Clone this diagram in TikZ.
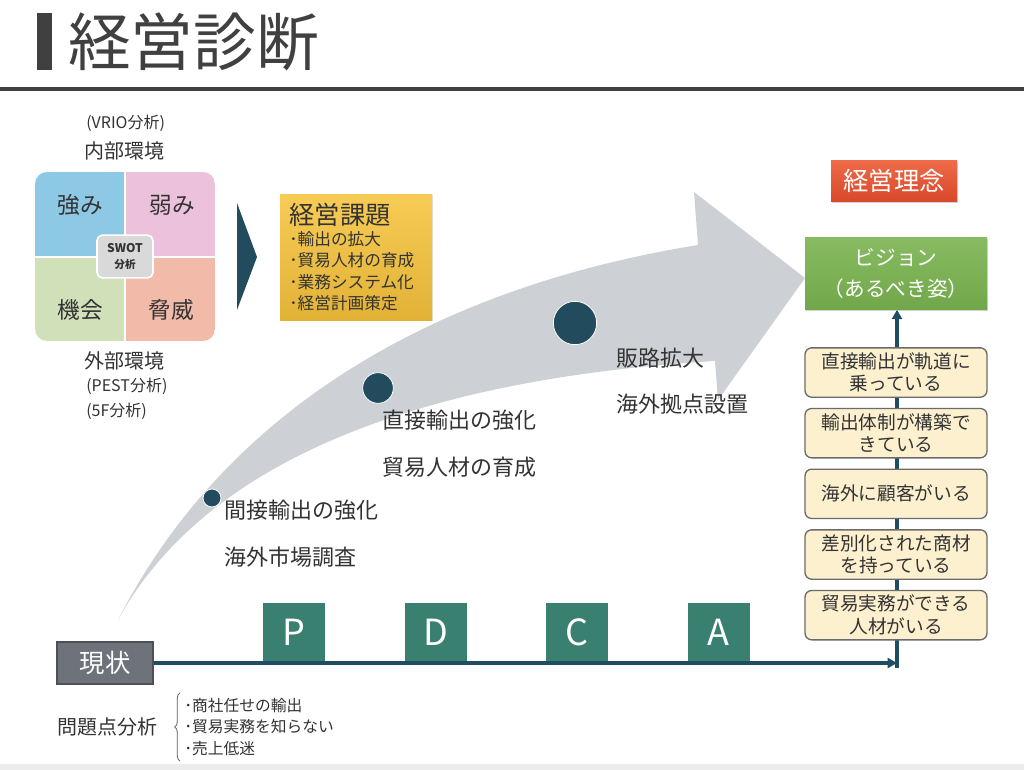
\documentclass[tikz,border=0pt]{standalone}
\usepackage{fontspec}
\setmainfont{Noto Sans CJK JP}
\usetikzlibrary{arrows.meta, positioning, backgrounds, decorations.pathreplacing, shadows}

\definecolor{ink}{HTML}{333333}
\definecolor{titlegray}{HTML}{404040}
\definecolor{navy}{HTML}{234B5E}
\definecolor{flowline}{HTML}{1F4D63}
\definecolor{arrowgray}{RGB}{205,208,212}
\definecolor{pdcagreen}{HTML}{3A8071}
\definecolor{swotblue}{HTML}{8DC8E4}
\definecolor{swotpink}{HTML}{ECC1DC}
\definecolor{swotgreen}{HTML}{D0E1BA}
\definecolor{swotred}{HTML}{F2BAA9}
\definecolor{goalfill}{HTML}{FCF0CF}
\definecolor{goaledge}{HTML}{6B6B6B}
\definecolor{nowgray}{HTML}{6E727B}
\definecolor{issuetop}{HTML}{F7CB55}
\definecolor{issuebottom}{HTML}{E2B236}
\definecolor{visiontop}{HTML}{88BB62}
\definecolor{visionbottom}{HTML}{71A74A}
\definecolor{policytop}{HTML}{EE6B48}
\definecolor{policybottom}{HTML}{D8482A}

\newcommand{\fsz}[2]{\fontsize{#1}{#2}\selectfont}

\begin{document}
\begin{tikzpicture}[
    x=0.75pt, y=-0.75pt,
    node distance=7.5pt,
    txt/.style={text=ink, inner sep=0pt},
    quad/.style={txt, font=\fsz{17}{20}},
    envlabel/.style={txt, anchor=west, font=\fsz{15}{18}},
    toollabel/.style={txt, anchor=west, font=\fsz{12}{14}},
    pdca/.style={rectangle, fill=pdcagreen, text=white, minimum width=46.5pt, minimum height=44pt, font=\fsz{27}{30}},
    milestone/.style={circle, fill=navy, draw=white, line width=0.6pt, inner sep=0pt},
    steptext/.style={txt, anchor=west, align=left, font=\fsz{16.5}{35}},
    goal/.style={rectangle, rounded corners=5pt, draw=goaledge, line width=1pt, fill=goalfill, minimum width=136.5pt, minimum height=37pt, inner sep=2pt, align=center, text=ink, font=\fsz{14}{17}},
    flow/.style={line width=2.3pt, draw=flowline, -{Triangle[length=7pt, width=7.5pt]}},
    banner/.style={rectangle, text=white, align=center, drop shadow={opacity=0.35, shadow xshift=1pt, shadow yshift=-1pt}}
]
\useasboundingbox (0,0) rectangle (1024,770);

% Title
\fill[titlegray] (37,13) rectangle (52,70);
\node[txt, anchor=west, text=titlegray, font=\fsz{47}{50}] (title) at (68,42) {経営診断};
\draw[titlegray, line width=2.5pt] (0,89) -- (1024,89);
\fill[gray!15] (0,764) rectangle (1024,770);

% Growth arrow
\fill[arrowgray] (118,620) .. controls (220,420) and (420,290) .. (698,245) -- (694,192) -- (805,278)
    -- (718,400) -- (715,361) .. controls (400,380) and (200,470) .. (118,620) -- cycle;

% SWOT
\begin{scope}
  \clip[rounded corners=9pt] (35,172) rectangle (215,341);
  \fill[swotblue] (35,172) rectangle (125,257);
  \fill[swotpink] (125,172) rectangle (215,257);
  \fill[swotgreen] (35,257) rectangle (125,341);
  \fill[swotred] (125,257) rectangle (215,341);
  \draw[white, line width=1.2pt] (125,172) -- (125,341) (35,257) -- (215,257);
\end{scope}
\node[quad] (strength) at (80,205) {強み};
\node[quad] (weakness) at (172,205) {弱み};
\node[quad] (opportunity) at (80,310) {機会};
\node[quad] (threat) at (171,310) {脅威};
\node[rectangle, rounded corners=4pt, fill=gray!30, draw=white, line width=1.2pt, minimum width=42pt, minimum height=32pt, align=center, text=ink, inner sep=1pt] (swot) at (125,256.5) {{\fsz{9}{13}\bfseries SWOT}\\{\fsz{8}{13}\bfseries 分析}};

\node[toollabel] (vrio) at (86,123) {(VRIO分析)};
\node[envlabel] (internal) at (84,151) {内部環境};
\node[envlabel] (external) at (84,361) {外部環境};
\node[toollabel] (pest) at (86,386) {(PEST分析)};
\node[toollabel] (fiveforces) at (86,411) {(5F分析)};

% Chevron and issues
\fill[navy] (237,203) -- (257,257) -- (237,310) -- cycle;
\node[rectangle, top color=issuetop, bottom color=issuebottom, drop shadow={opacity=0.25, shadow xshift=1pt, shadow yshift=-1pt},
      minimum width=114pt, minimum height=94.5pt, text width=100pt, inner xsep=7pt, align=left, text=ink, font=\fsz{12.5}{16}] (issues) at (356,257)
      {{\fsz{19}{22}経営課題}\\･輸出の拡大\\･貿易人材の育成\\･業務システム化\\･経営計画策定};

% Milestones
\node[milestone, minimum size=13.5pt] (m1) at (212,498) {};
\node[milestone, minimum size=23pt] (m2) at (378,388) {};
\node[milestone, minimum size=32.5pt] (m3) at (575,323) {};
\node[steptext] (step1) at (224,533.5) {間接輸出の強化\\海外市場調査};
\node[steptext] (step2) at (382,443.5) {直接輸出の強化\\貿易人材の育成};
\node[steptext] (step3) at (616,381) {販路拡大\\海外拠点設置};

% Current state and PDCA
\node[rectangle, fill=nowgray, draw=nowgray!70!black, line width=0.8pt, minimum width=72pt, minimum height=31.5pt, text=white, font=\fsz{19}{22}] (now) at (105,663) {現状};
\node[pdca, anchor=south] (plan) at (294,662) {P};
\node[pdca, right=59.25pt of plan] (do) {D};
\node[pdca, right=59.25pt of do] (check) {C};
\node[pdca, right=59.25pt of check] (act) {A};

\node[txt, anchor=west, font=\fsz{15}{18}] (problems) at (57,727) {問題点分析};
\node[txt, anchor=west, align=left, font=\fsz{11.8}{16}] (causes) at (184,727) {･商社任せの輸出\\･貿易実務を知らない\\･売上低迷};
\draw[ink!80, line width=0.6pt, decorate, decoration={brace, amplitude=4pt}]
    ([xshift=-3pt, yshift=-4pt]causes.south west) -- ([xshift=-3pt, yshift=4pt]causes.north west);

% Right column
\node[banner, top color=policytop, bottom color=policybottom, minimum width=94.5pt, minimum height=31pt, font=\fsz{19}{22}] (policy) at (894,181) {経営理念};
\node[banner, top color=visiontop, bottom color=visionbottom, minimum width=136.5pt, minimum height=54pt, font=\fsz{15.5}{23}] (vision) at (896,273.5) {ビジョン\\（あるべき姿）};

\node[goal] (g1) at (896,372.5) {直接輸出が軌道に\\乗っている};
\node[goal, below=of g1] (g2) {輸出体制が構築で\\きている};
\node[goal, below=of g2] (g3) {海外に顧客がいる};
\node[goal, below=of g3] (g4) {差別化された商材\\を持っている};
\node[goal, below=of g4] (g5) {貿易実務ができる\\人材がいる};

% Flow lines
\coordinate (turn) at (897,668);
\draw[flow] (now.east) -- (now.east -| turn);
\begin{scope}[on background layer]
  \fill[white] (0,0) rectangle (1024,770);
  \draw[flow] (turn) -- (turn |- vision.south);
\end{scope}
\end{tikzpicture}
\end{document}
